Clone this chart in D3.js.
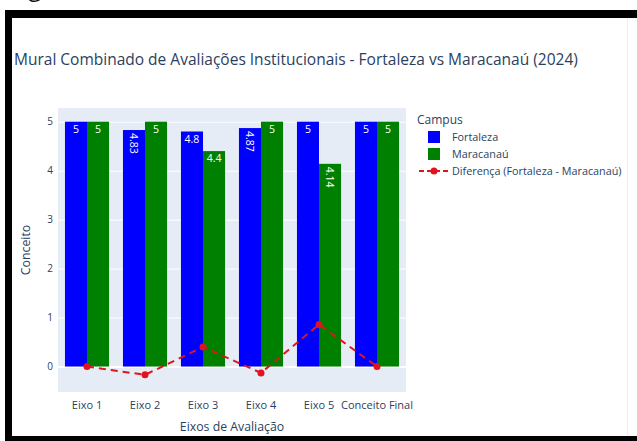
<!DOCTYPE html>
<html>
<head>
<meta charset="utf-8">
<script src="https://cdn.jsdelivr.net/npm/d3@7"></script>
<style>
  html, body { margin: 0; padding: 0; background: #fff; }
  svg { display: block; font-family: "Open Sans", "Noto Sans", Arial, sans-serif; }
</style>
</head>
<body>
<svg id="chart" width="637" height="441"></svg>
<script>
// Evaluation axes and campus scores
const categories = ["Eixo 1", "Eixo 2", "Eixo 3", "Eixo 4", "Eixo 5", "Conceito Final"];
const fortaleza = [5, 4.83, 4.8, 4.87, 5, 5];
const maracanau = [5, 5, 4.4, 5, 4.14, 5];
const diferenca = [0, -0.17, 0.4, -0.13, 0.86, 0];
const yTicks = [0, 1, 2, 3, 4, 5];
const seriesNames = ["Fortaleza", "Maracanaú"];
const seriesColors = ["#0000ff", "#008000"];

const svg = d3.select("#chart");

// Caption line of the page above the framed figure (only its lower edge shows)
svg.append("text")
  .attr("x", -14).attr("y", -4)
  .attr("font-size", 24)
  .attr("fill", "#111")
  .text("Imagem 6 – Mural combinado, Fortaleza");

// Frame around the figure
svg.append("rect").attr("x", 5).attr("y", 10).attr("width", 640).attr("height", 8).attr("fill", "#000");
svg.append("rect").attr("x", 5).attr("y", 10).attr("width", 7).attr("height", 431).attr("fill", "#000");
svg.append("rect").attr("x", 5).attr("y", 436).attr("width", 640).attr("height", 6).attr("fill", "#000");
svg.append("line").attr("x1", 627.5).attr("x2", 627.5).attr("y1", 18).attr("y2", 436)
  .attr("stroke", "#eeeeee").attr("stroke-width", 1);

const plot = { left: 58, right: 406, top: 108, bottom: 392 };

const x = d3.scaleBand().domain(categories)
  .range([plot.left, plot.right])
  .paddingInner(0.24).paddingOuter(0.12);
const xSub = d3.scaleBand().domain(seriesNames).range([0, x.bandwidth()]).padding(0);
const y = d3.scaleLinear().domain([-0.52, 5.28]).range([plot.bottom, plot.top]);

// Plot background
svg.append("rect")
  .attr("x", plot.left).attr("y", plot.top)
  .attr("width", plot.right - plot.left).attr("height", plot.bottom - plot.top)
  .attr("fill", "#e5ecf6");

// Horizontal gridlines and y tick labels
const yAxis = d3.axisLeft(y).tickValues(yTicks).tickFormat(d3.format("d"))
  .tickSize(-(plot.right - plot.left)).tickPadding(5);
const gy = svg.append("g").attr("transform", `translate(${plot.left},0)`).call(yAxis);
gy.select(".domain").remove();
gy.selectAll(".tick line").attr("stroke", "#fff").attr("stroke-width", d => d === 0 ? 2 : 1);
gy.selectAll(".tick text").attr("fill", "#2a3f5f").attr("font-size", 10)
  .attr("font-family", "'Open Sans', sans-serif");

// Bars
const seriesValues = [fortaleza, maracanau];
const barLayer = svg.append("g");
seriesNames.forEach((name, si) => {
  const vals = seriesValues[si];
  const g = barLayer.append("g");
  g.selectAll("rect").data(categories).join("rect")
    .attr("x", c => x(c) + xSub(name))
    .attr("width", xSub.bandwidth())
    .attr("y", (c, i) => y(vals[i]))
    .attr("height", (c, i) => y(0) - y(vals[i]))
    .attr("fill", seriesColors[si]);

  // Value labels inside the top of each bar; long labels turn sideways
  g.selectAll("text").data(categories).join("text")
    .each(function (c, i) {
      const v = vals[i];
      const label = d3.format("~g")(v);
      const cx = x(c) + xSub(name) + xSub.bandwidth() / 2;
      const top = y(v);
      const t = d3.select(this)
        .attr("fill", "#fff").attr("font-size", 10.5)
        .attr("font-family", "'Open Sans', sans-serif")
        .text(label);
      if (label.length > 3) {
        t.attr("text-anchor", "start")
          .attr("dominant-baseline", "central")
          .attr("transform", `translate(${cx},${top + 3}) rotate(90)`);
      } else {
        t.attr("text-anchor", "middle")
          .attr("x", cx).attr("y", top + 11);
      }
    });
});

// Difference line
const line = d3.line()
  .x((d, i) => x(categories[i]) + x.bandwidth() / 2)
  .y(d => y(d));
svg.append("path").datum(diferenca)
  .attr("d", line)
  .attr("fill", "none")
  .attr("stroke", "#e0141e")
  .attr("stroke-width", 2)
  .attr("stroke-dasharray", "7,5");
svg.append("g").selectAll("circle").data(diferenca).join("circle")
  .attr("cx", (d, i) => x(categories[i]) + x.bandwidth() / 2)
  .attr("cy", d => y(d))
  .attr("r", 3.5)
  .attr("fill", "#e0141e");

// X axis labels
const xAxis = d3.axisBottom(x).tickSize(0).tickPadding(9);
const gx = svg.append("g").attr("transform", `translate(0,${plot.bottom})`).call(xAxis);
gx.select(".domain").remove();
gx.selectAll(".tick text").attr("fill", "#2a3f5f").attr("font-size", 11)
  .attr("font-family", "'Open Sans', sans-serif");

// Axis titles
svg.append("text")
  .attr("x", (plot.left + plot.right) / 2).attr("y", 431)
  .attr("text-anchor", "middle")
  .attr("fill", "#2a3f5f").attr("font-size", 12.3)
  .text("Eixos de Avaliação");
svg.append("text")
  .attr("transform", `translate(30,${(plot.top + plot.bottom) / 2}) rotate(-90)`)
  .attr("text-anchor", "middle")
  .attr("fill", "#2a3f5f").attr("font-size", 12.3)
  .text("Conceito");

// Title
svg.append("text")
  .attr("x", 14).attr("y", 65)
  .attr("fill", "#2a3f5f").attr("font-size", 15.5)
  .text("Mural Combinado de Avaliações Institucionais - Fortaleza vs Maracanaú (2024)");

// Legend
const legend = svg.append("g").attr("transform", "translate(417,0)");
legend.append("text").attr("x", 0).attr("y", 124)
  .attr("fill", "#2a3f5f").attr("font-size", 12).text("Campus");
const legendItems = [
  { name: "Fortaleza", color: seriesColors[0], type: "bar" },
  { name: "Maracanaú", color: seriesColors[1], type: "bar" },
  { name: "Diferença (Fortaleza - Maracanaú)", color: "#e0141e", type: "line" }
];
legendItems.forEach((item, i) => {
  const cy = 137 + i * 17;
  if (item.type === "bar") {
    legend.append("rect").attr("x", 11).attr("y", cy - 6).attr("width", 12).attr("height", 12)
      .attr("fill", item.color);
  } else {
    legend.append("line").attr("x1", 2).attr("x2", 32).attr("y1", cy).attr("y2", cy)
      .attr("stroke", item.color).attr("stroke-width", 2).attr("stroke-dasharray", "5,3");
    legend.append("circle").attr("cx", 17).attr("cy", cy).attr("r", 3.5).attr("fill", item.color);
  }
  legend.append("text").attr("x", 35).attr("y", cy + 4)
    .attr("fill", "#2a3f5f").attr("font-size", 10.8).text(item.name);
});
</script>
</body>
</html>
